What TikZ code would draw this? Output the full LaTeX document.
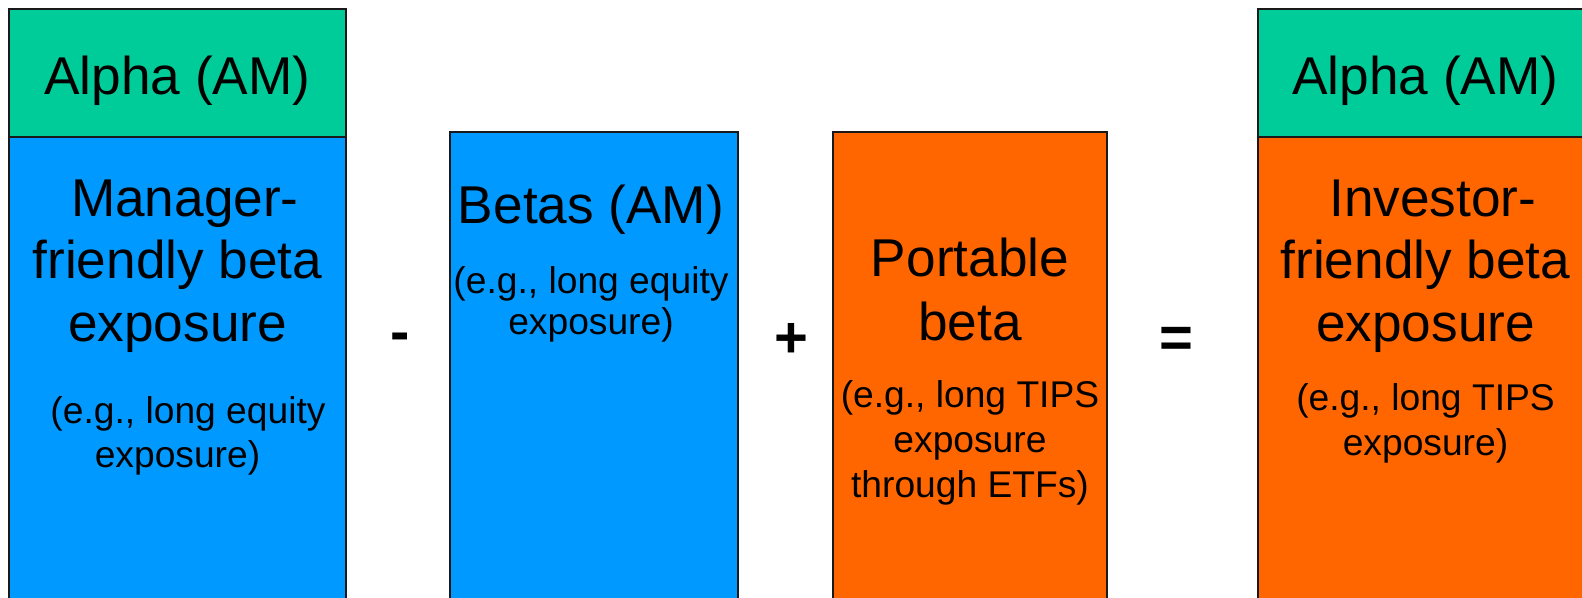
\documentclass[tikz,border=0pt]{standalone}
\usepackage{fontspec}
\setmainfont{Liberation Sans}
\definecolor{alphagreen}{RGB}{0,204,153}
\definecolor{betablue}{RGB}{0,153,255}
\definecolor{betaorange}{RGB}{255,102,0}
\newcommand{\bigtxt}{\fontsize{53.2}{62.5}\selectfont}
\newcommand{\smalltxt}[1]{\fontsize{37.2}{#1}\selectfont}
\newcommand{\linesblock}[1]{\begin{tabular}[t]{@{}c@{}}#1\end{tabular}}
\begin{document}
\begin{tikzpicture}[x=1pt,y=-1pt,
  panel/.style={draw=black!90,line width=1.6pt,anchor=north west,inner sep=0pt,outer sep=0pt},
  label/.style={anchor=base,inner sep=0pt,outer sep=0pt,text=black},
  opsign/.style={anchor=base,inner sep=0pt,outer sep=0pt,font=\fontsize{58}{64}\selectfont\bfseries}]
\useasboundingbox (0,0) rectangle (1582,597);
\clip (0,0) rectangle (1582,597);
% panels
\node[panel,fill=betablue,minimum width=337pt,minimum height=483pt] (mgr) at (9,137) {};
\node[panel,fill=alphagreen,minimum width=337pt,minimum height=128pt] (alphaL) at (9,9) {};
\node[panel,fill=betablue,minimum width=288pt,minimum height=488pt] (betas) at (450,132) {};
\node[panel,fill=betaorange,minimum width=274pt,minimum height=488pt] (port) at (833,132) {};
\node[panel,fill=betaorange,minimum width=335pt,minimum height=483pt] (inv) at (1258,137) {};
\node[panel,fill=alphagreen,minimum width=335pt,minimum height=128pt] (alphaR) at (1258,9) {};
% texts
\node[label,font=\bigtxt] (tAlphaL) at (177.5,94.5) {Alpha (AM)};
\node[label,font=\bigtxt] (tMgr) at (177.5,216) {\linesblock{\hspace{14.8pt}Manager-\\friendly beta\\exposure}};
\node[label,font=\smalltxt{44}] (eMgr) at (177.5,423) {\linesblock{\hspace{21pt}(e.g., long equity\\exposure)}};
\node[label,font=\bigtxt] (tBetas) at (591,223) {Betas (AM)};
\node[label,font=\smalltxt{41}] (eBetas) at (591,293) {\linesblock{(e.g., long equity\\exposure)}};
\node[label,font=\fontsize{53.2}{64}\selectfont] (tPort) at (970,276) {\linesblock{Portable\\beta}};
\node[label,font=\smalltxt{45}] (ePort) at (970,407) {\linesblock{(e.g., long TIPS\\exposure\\through ETFs)}};
\node[label,font=\bigtxt] (tAlphaR) at (1425.5,94.5) {Alpha (AM)};
\node[label,font=\bigtxt] (tInv) at (1425.5,216) {\linesblock{\hspace{14.8pt}Investor-\\friendly beta\\exposure}};
\node[label,font=\smalltxt{45}] (eInv) at (1425.5,410) {\linesblock{(e.g., long TIPS\\exposure)}};
% operators
\node[opsign] (minus) at (400,351) {-};
\node[opsign] (plus) at (791.5,357.5) {+};
\node[opsign] (equals) at (1176.5,357) {=};
\end{tikzpicture}
\end{document}
